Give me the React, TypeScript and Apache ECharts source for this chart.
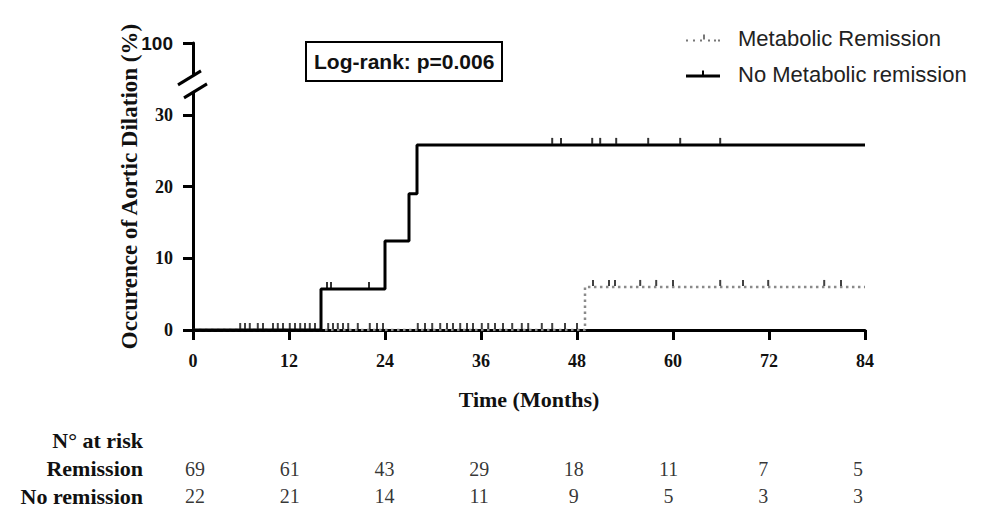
import React, { useEffect, useRef } from "react";
import * as echarts from "echarts";

// x axis ticks (months) and the risk table columns
const months = [0, 12, 24, 36, 48, 60, 72, 84];
const riskRows = ["N° at risk", "Remission", "No remission"];
const riskRemission = [69, 61, 43, 29, 18, 11, 7, 5];
const riskNoRemission = [22, 21, 14, 11, 9, 5, 3, 3];

// Kaplan-Meier steps [month, %]
const noRemissionSteps = [
  [0, 0],
  [16, 5.7],
  [24, 12.4],
  [27, 19.0],
  [28, 25.8],
  [84, 25.8],
];
const remissionSteps = [
  [0, 0],
  [49, 6.0],
  [84, 6.0],
];

// censored observations (months)
const noRemissionCensor = [16.75, 17.25, 22, 44.9, 46, 49.9, 50.9, 52.9, 56.9, 60.9, 65.9];
const remissionCensor = [
  5.9, 6.5, 7.1, 8.1, 8.75, 10, 10.6, 11.25, 12.1, 12.75, 13.4, 14, 14.6, 15.25,
  16.9, 17.5, 18.1, 18.75, 19.4, 20.6, 22.1, 23, 23.75, 28.1, 29, 29.9, 30.9,
  31.75, 32.5, 33.4, 34.25, 35, 36.1, 36.9, 37.75, 38.75, 39.9, 41.1, 41.9, 43.6,
  44.9, 46.5, 48, 50, 52, 52.75, 55.9, 57.9, 60, 65.9, 68.75, 71.9, 78.9, 81,
];

const SERIF = "'Liberation Serif', 'Times New Roman', serif";
const SANS = "'Liberation Sans', Arial, sans-serif";

const stepValue = (steps: number[][], t: number) => {
  let v = steps[0][1];
  steps.forEach(([x, y]) => {
    if (x <= t) v = y;
  });
  return v;
};

const App: React.FC = () => {
  const chartRef = useRef<HTMLDivElement>(null);

  useEffect(() => {
    document.body.style.margin = "0";
    if (!chartRef.current) return;
    const chart = echarts.init(chartRef.current, undefined, { renderer: "svg" });

    const riskLabel = {
      show: true,
      position: "inside",
      formatter: (p: any) => String(p.value[2]),
      fontFamily: SERIF,
      fontSize: 20,
      color: "#000",
    };

    const option: any = {
      animation: false,
      title: {
        text: "Log-rank: p=0.006",
        left: 306,
        top: 42,
        padding: [9, 8],
        borderColor: "#000",
        borderWidth: 2,
        textStyle: { fontFamily: SANS, fontWeight: "bold", fontSize: 21, color: "#111" },
      },
      legend: {
        orient: "vertical",
        left: 681,
        top: 22,
        itemWidth: 34,
        itemHeight: 7,
        itemGap: 14,
        textStyle: { fontFamily: SANS, fontSize: 22, color: "#222", padding: [0, 0, 0, 13] },
        data: [
          {
            name: "Metabolic Remission",
            icon: "path://M0 5h2v2h-2z M7 5h2v2h-2z M14 5h2v2h-2z M17 0h2v5h-2z M22 5h2v2h-2z M28 5h2v2h-2z M32 5h2v2h-2z",
            itemStyle: { color: "#777" },
          },
          {
            name: "No Metabolic remission",
            icon: "path://M0 4h34v3h-34z M16 0h2v4h-2z",
            itemStyle: { color: "#000" },
          },
        ],
      },
      grid: [
        { left: 193, right: 119, top: 43, bottom: 190 },
        { left: 195, right: 126, top: 427, height: 83 },
      ],
      xAxis: [
        {
          type: "value",
          gridIndex: 0,
          min: 0,
          max: 84,
          interval: 12,
          axisLine: { lineStyle: { color: "#000", width: 3 } },
          axisTick: { length: 10, lineStyle: { color: "#000", width: 3 } },
          splitLine: { show: false },
          axisLabel: { fontFamily: SERIF, fontWeight: "bold", fontSize: 18, color: "#111", margin: 22 },
          name: "Time (Months)",
          nameLocation: "middle",
          nameGap: 58,
          nameMoveOverlap: false,
          nameTextStyle: { fontFamily: SERIF, fontWeight: "bold", fontSize: 22, color: "#111" },
        },
        { type: "value", gridIndex: 1, min: 0, max: 84, show: false },
      ],
      yAxis: [
        {
          type: "value",
          gridIndex: 0,
          min: 0,
          max: 40,
          interval: 10,
          axisLine: { show: true, lineStyle: { color: "#000", width: 3 } },
          axisTick: { show: true, length: 10, lineStyle: { color: "#000", width: 3 } },
          splitLine: { show: false },
          axisLabel: {
            fontFamily: SERIF,
            fontWeight: "bold",
            fontSize: 18,
            color: "#111",
            margin: 20,
            formatter: (v: number) => (v === 40 ? "{big|100}" : String(v)),
            rich: { big: { fontFamily: SANS, fontWeight: "bold", fontSize: 19, color: "#111" } },
          },
          name: "Occurence of Aortic Dilation (%)",
          nameLocation: "middle",
          nameGap: 52,
          nameMoveOverlap: false,
          nameTextStyle: { fontFamily: SERIF, fontWeight: "bold", fontSize: 23, color: "#111" },
        },
        {
          type: "category",
          gridIndex: 1,
          inverse: true,
          data: riskRows,
          axisLine: { show: false },
          axisTick: { show: false },
          axisLabel: {
            interval: 0,
            fontFamily: SERIF,
            fontWeight: "bold",
            fontSize: 22,
            color: "#111",
            margin: 52,
          },
        },
      ],
      series: [
        {
          name: "Metabolic Remission",
          type: "line",
          step: "end",
          symbol: "none",
          z: 3,
          data: remissionSteps,
          lineStyle: { color: "#8a8a8a", width: 2.5, type: [2.5, 3.5] },
          itemStyle: { color: "#777" },
        },
        {
          name: "No Metabolic remission",
          type: "line",
          step: "end",
          symbol: "none",
          z: 4,
          data: noRemissionSteps,
          lineStyle: { color: "#000", width: 3 },
          itemStyle: { color: "#000" },
        },
        {
          name: "censor-remission",
          type: "scatter",
          symbol: "rect",
          symbolSize: [2, 6],
          symbolOffset: [0, -4],
          z: 5,
          itemStyle: { color: "#111" },
          data: remissionCensor.map((t) => [t, stepValue(remissionSteps, t)]),
        },
        {
          name: "censor-no-remission",
          type: "scatter",
          symbol: "rect",
          symbolSize: [2, 6],
          symbolOffset: [0, -4],
          z: 5,
          itemStyle: { color: "#000" },
          data: noRemissionCensor.map((t) => [t, stepValue(noRemissionSteps, t)]),
        },
        {
          name: "risk-remission",
          type: "scatter",
          xAxisIndex: 1,
          yAxisIndex: 1,
          symbolSize: 0,
          label: riskLabel,
          data: months.map((m, i) => [m, "Remission", riskRemission[i]]),
        },
        {
          name: "risk-no-remission",
          type: "scatter",
          xAxisIndex: 1,
          yAxisIndex: 1,
          symbolSize: 0,
          label: riskLabel,
          data: months.map((m, i) => [m, "No remission", riskNoRemission[i]]),
        },
      ],
    };

    chart.setOption(option);

    // axis break between 30 and 100
    const [bx, by] = chart.convertToPixel({ gridIndex: 0 }, [0, 35]) as number[];
    chart.setOption({
      graphic: [
        { type: "rect", z: 100, shape: { x: bx - 4, y: by - 4, width: 8, height: 18 }, style: { fill: "#fff" } },
        { type: "line", z: 101, shape: { x1: bx - 15, y1: by + 6, x2: bx + 8, y2: by - 8 }, style: { stroke: "#000", lineWidth: 3 } },
        { type: "line", z: 101, shape: { x1: bx - 9, y1: by + 19, x2: bx + 14, y2: by + 5 }, style: { stroke: "#000", lineWidth: 3 } },
      ],
    });

    return () => {
      chart.dispose();
    };
  }, []);

  return <div ref={chartRef} style={{ width: 984, height: 520 }} />;
};

export default App;
